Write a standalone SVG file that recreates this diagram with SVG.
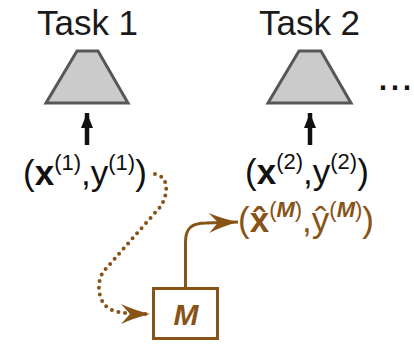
<svg xmlns="http://www.w3.org/2000/svg" width="414" height="344" viewBox="0 0 414 344">
<style>
text{font-family:"Liberation Sans",Arial,sans-serif}
.task{font-size:35px;fill:#1a1a1a;text-anchor:middle}
.lbl{font-size:35px;fill:#111}
.sup{font-size:22px}
.brown{fill:#875316}
.trap{fill:#cbcbcb;stroke:#575757;stroke-width:3;stroke-linejoin:miter}
.up{stroke:#111;stroke-width:4.5;fill:none}
.solid{stroke:#875316;stroke-width:3;fill:none}
.dotted{stroke:#875316;stroke-width:4;fill:none;stroke-dasharray:0 6.8;stroke-linecap:round}
.box{fill:#fff;stroke:#875316;stroke-width:3}
</style>
<defs>
<marker id="ahB" markerUnits="userSpaceOnUse" viewBox="0 0 32 22" markerWidth="32" markerHeight="22" refX="30" refY="11" orient="auto">
<path d="M1,1 Q14,7 30,11 Q14,15 1,21 L10,11 Z" fill="#875316"/>
</marker>
<marker id="ahK" markerUnits="userSpaceOnUse" viewBox="0 0 16 13" markerWidth="16" markerHeight="13" refX="15" refY="6.5" orient="auto">
<path d="M0,0.5 L15,6.5 L0,12.5 Z" fill="#111"/>
</marker>
</defs>

<g id="task1">
<text class="task" x="87.5" y="35">Task 1</text>
<polygon class="trap" points="77,51 98,51 128,103 46,103"/>
</g>
<g id="task2">
<text class="task" x="309.5" y="35">Task 2</text>
<polygon class="trap" points="299,51 321,51 351,103 268,103"/>
</g>
<g id="ellipsis">
<text x="377" y="90" style="font-size:43px;fill:#111">...</text>
</g>

<g id="data1">
<text class="lbl" x="23" y="185">(<tspan font-weight="bold">x</tspan><tspan class="sup" dy="-15">(1)</tspan><tspan dy="15">,y</tspan><tspan class="sup" dy="-15">(1)</tspan><tspan dy="15">)</tspan></text>
</g>
<g id="data2">
<text class="lbl" x="245" y="184">(<tspan font-weight="bold">x</tspan><tspan class="sup" dy="-15">(2)</tspan><tspan dy="15">,y</tspan><tspan class="sup" dy="-15">(2)</tspan><tspan dy="15">)</tspan></text>
</g>
<g id="dataM">
<text class="lbl brown" x="238" y="232">(<tspan font-weight="bold">x&#x302;</tspan><tspan class="sup" dy="-15">(<tspan font-weight="bold" font-style="italic">M</tspan>)</tspan><tspan dy="15">,ŷ</tspan><tspan class="sup" dy="-15">(<tspan font-weight="bold" font-style="italic">M</tspan>)</tspan><tspan dy="15">)</tspan></text>
</g>

<g id="model">
<rect class="box" x="153.5" y="288.5" width="64" height="50"/>
<text x="186" y="325" text-anchor="middle" style="font-size:30px;font-weight:bold;font-style:italic;fill:#875316">M</text>
</g>

<g id="connectors">
<line class="up" x1="87" y1="145" x2="87" y2="113" marker-end="url(#ahK)"/>
<line class="up" x1="310" y1="145" x2="310" y2="113" marker-end="url(#ahK)"/>
<path class="solid" d="M185.5,288 V242 C185.5,228 192,223 206,223 L238,222" marker-end="url(#ahB)"/>
<path class="dotted" d="M155,174 C167,176 170,190 161,206 L103,272 C97,282 98,296 104,304 C110,311 118,314 150,314" marker-end="url(#ahB)"/>
</g>
</svg>
